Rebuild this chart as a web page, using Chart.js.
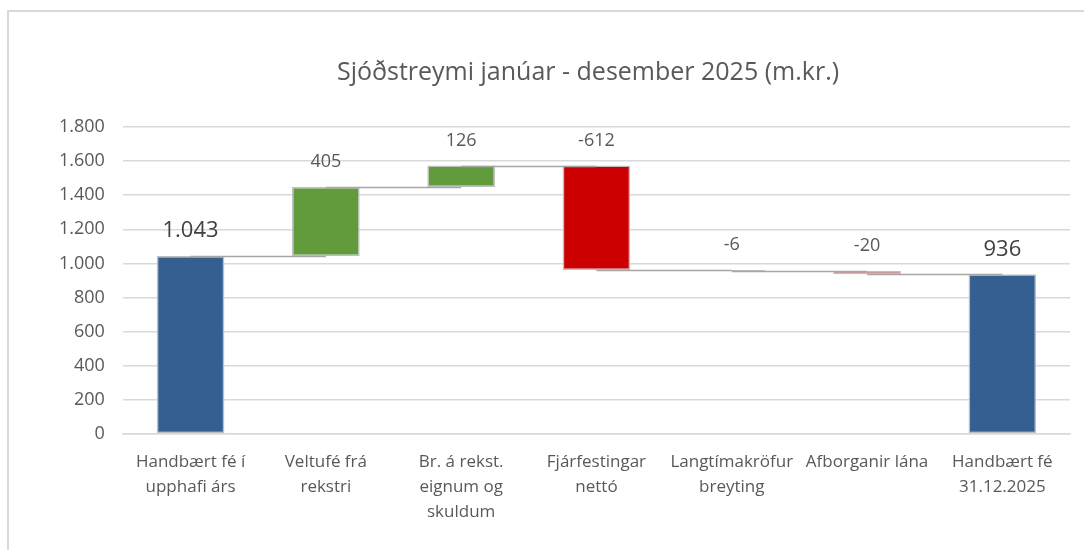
<!DOCTYPE html>
<html>
<head>
  <title>Sjóðstreymi</title>
  <script src="https://cdn.jsdelivr.net/npm/chart.js"></script>
  <style>
    body { margin: 0; background: #fff; }
    #frame { position: absolute; left: 7px; top: 10px; width: 1100px; height: 600px;
             border-left: 2px solid #d9d9d9; border-top: 2px solid #d9d9d9; }
    #wrap { position: absolute; left: 0; top: 0; width: 1084px; height: 550px; }
  </style>
</head>
<body>
  <div id="frame"></div>
  <div id="wrap"><canvas id="foss"></canvas></div>

  <script>
    // flokkar og gildi (m.kr.)
    var flokkar = [
      ['Handbært fé í', 'upphafi árs'],
      ['Veltufé frá', 'rekstri'],
      ['Br. á rekst.', 'eignum og', 'skuldum'],
      ['Fjárfestingar', 'nettó'],
      ['Langtímakröfur', 'breyting'],
      'Afborganir lána',
      ['Handbært fé', '31.12.2025']
    ];
    var breytingar = [1043, 405, 126, -612, -6, -20, 936];
    var samtals = [true, false, false, false, false, false, true];
    var yTicks = [0, 200, 400, 600, 800, 1000, 1200, 1400, 1600, 1800];
    var titill = 'Sjóðstreymi janúar - desember 2025 (m.kr.)';

    var BLAR = '#365f91', GRAENN = '#629b3c', RAUDUR = '#cc0000';

    function fmt(v) {
      var s = Math.abs(v).toString().replace(/\B(?=(\d{3})+(?!\d))/g, '.');
      return (v < 0 ? '-' : '') + s;
    }

    // reikna fljótandi súlur
    var stada = 0, sulur = [], litir = [], topp = [];
    breytingar.forEach(function(v, i) {
      if (samtals[i]) {
        sulur.push([0, v]); stada = v; litir.push(BLAR);
      } else {
        sulur.push([stada, stada + v]); stada += v;
        litir.push(v >= 0 ? GRAENN : RAUDUR);
      }
      topp.push(stada);
    });

    var tengilinur = {
      id: 'tengilinur',
      afterDatasetsDraw: function(chart) {
        var ctx = chart.ctx, x = chart.scales.x, y = chart.scales.y;
        ctx.save();
        ctx.strokeStyle = '#a6a6a6';
        ctx.lineWidth = 1.5;
        for (var i = 0; i < topp.length - 1; i++) {
          var py = Math.round(y.getPixelForValue(topp[i])) + 0.5;
          ctx.beginPath();
          ctx.moveTo(x.getPixelForValue(i), py);
          ctx.lineTo(x.getPixelForValue(i + 1), py);
          ctx.stroke();
        }
        // merki gilda
        ctx.textAlign = 'center';
        ctx.textBaseline = 'middle';
        sulur.forEach(function(s, i) {
          var efst = Math.max(s[0], s[1]);
          var py = y.getPixelForValue(efst) - 25;
          ctx.font = samtals[i] ? '22px "Open Sans"' : '18px "Open Sans"';
          ctx.fillStyle = samtals[i] ? '#404040' : '#595959';
          ctx.fillText(fmt(breytingar[i]), x.getPixelForValue(i), py);
        });
        ctx.restore();
      }
    };

    var titillPlugin = {
      id: 'titill',
      afterDraw: function(chart) {
        var ctx = chart.ctx;
        ctx.save();
        ctx.font = '25px "Open Sans"';
        ctx.fillStyle = '#595959';
        ctx.textAlign = 'center';
        ctx.textBaseline = 'middle';
        ctx.fillText(titill, 588, 73);
        ctx.restore();
      }
    };

    var ctx = document.getElementById('foss').getContext('2d');
    new Chart(ctx, {
      type: 'bar',
      data: {
        labels: flokkar,
        datasets: [{
          data: sulur,
          backgroundColor: litir,
          borderColor: '#bfbfbf',
          borderWidth: 1.5,
          borderSkipped: false,
          barPercentage: 0.5,
          categoryPercentage: 1
        }]
      },
      plugins: [tengilinur, titillPlugin],
      options: {
        responsive: true,
        maintainAspectRatio: false,
        animation: false,
        layout: { padding: { top: 127, right: 14, bottom: 17, left: 41 } },
        plugins: { legend: { display: false }, tooltip: { enabled: false }, title: { display: false } },
        scales: {
          x: {
            grid: { display: false },
            border: { color: '#d9d9d9', width: 1.5 },
            ticks: { color: '#595959', font: { family: 'Open Sans', size: 17, lineHeight: 1.47 },
                     maxRotation: 0, autoSkip: false, padding: 8 }
          },
          y: {
            min: 0, max: 1800,
            afterBuildTicks: function(ax) { ax.ticks = yTicks.map(function(v) { return { value: v }; }); },
            grid: { color: '#d9d9d9', lineWidth: 1.5, drawTicks: false },
            border: { display: false },
            ticks: { color: '#595959', font: { family: 'Open Sans', size: 18 }, padding: 18,
                     callback: function(v) { return fmt(v); } }
          }
        }
      }
    });
  </script>
</body>
</html>
